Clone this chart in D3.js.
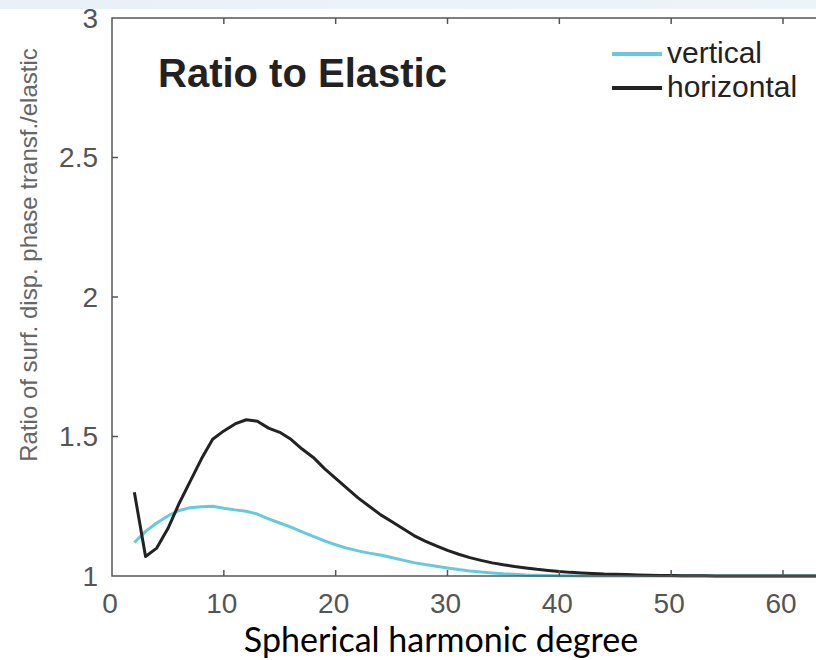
<!DOCTYPE html>
<html>
<head>
<meta charset="utf-8">
<script src="https://cdn.jsdelivr.net/npm/d3@7"></script>
<style>
  html, body { margin: 0; padding: 0; background: #fff; }
  svg { display: block; }
</style>
</head>
<body>
<div id="chart"></div>
<script>
// Spherical harmonic degree (x) and ratio values
const degrees = [2,3,4,5,6,7,8,9,10,11,12,13,14,15,16,17,18,19,20,21,22,23,24,25,26,27,28,29,30,31,32,33,34,35,36,37,38,39,40,41,42,43,44,45,46,47,48,49,50,51,52,53,54,55,56,57,58,59,60,61,62,63];
const horizontal = [1.30,1.07,1.10,1.17,1.26,1.34,1.42,1.49,1.52,1.545,1.56,1.555,1.53,1.515,1.49,1.455,1.425,1.385,1.35,1.315,1.28,1.25,1.22,1.195,1.17,1.145,1.125,1.108,1.092,1.078,1.066,1.056,1.047,1.040,1.034,1.029,1.024,1.020,1.016,1.013,1.011,1.009,1.007,1.006,1.005,1.004,1.003,1.002,1.002,1.001,1.001,1.001,1.0,1.0,1.0,1.0,1.0,1.0,1.0,1.0,1.0,1.0];
const vertical = [1.12,1.16,1.19,1.215,1.235,1.245,1.248,1.25,1.243,1.237,1.232,1.222,1.205,1.19,1.175,1.158,1.142,1.126,1.112,1.100,1.090,1.082,1.075,1.066,1.057,1.048,1.041,1.035,1.029,1.023,1.018,1.014,1.011,1.008,1.006,1.004,1.003,1.002,1.001,1.001,1.0,1.0,1.0,1.0,1.0,1.0,1.0,1.0,1.0,1.0,1.0,1.0,1.0,1.0,1.0,1.0,1.0,1.0,1.0,1.0,1.0,1.0];
const xTicks = [0,10,20,30,40,50,60];
const yTicks = [1,1.5,2,2.5,3];
const seriesNames = ["vertical", "horizontal"];

const width = 816;
const height = 660;
const verticalColor = "#66cadb";
const horizontalColor = "#222";
const axisColor = "#555";

// Plot frame (right edge runs off the picture)
const plotLeft = 112, plotTop = 18, plotBottom = 576;

const x = d3.scaleLinear().domain([0, 60]).range([plotLeft, 783]);
const y = d3.scaleLinear().domain([1, 3]).range([plotBottom, plotTop]);

const svg = d3.select("#chart")
  .append("svg")
  .attr("width", width)
  .attr("height", height)
  .style("font-family", "'Liberation Sans', Arial, Helvetica, sans-serif");

const defs = svg.append("defs");
defs.append("clipPath")
  .attr("id", "plot-clip")
  .append("rect")
  .attr("x", plotLeft)
  .attr("y", plotTop)
  .attr("width", width - plotLeft)
  .attr("height", plotBottom - plotTop + 2);

// Lines
const line = d3.line()
  .x(d => x(d[0]))
  .y(d => y(d[1]));

const plot = svg.append("g").attr("clip-path", "url(#plot-clip)");

plot.append("path")
  .datum(degrees.map((d, i) => [d, vertical[i]]))
  .attr("fill", "none")
  .attr("stroke", verticalColor)
  .attr("stroke-width", 3)
  .attr("stroke-linejoin", "round")
  .attr("d", line);

plot.append("path")
  .datum(degrees.map((d, i) => [d, horizontal[i]]))
  .attr("fill", "none")
  .attr("stroke", horizontalColor)
  .attr("stroke-width", 3)
  .attr("stroke-linejoin", "round")
  .attr("d", line);

// Frame: left, bottom, top
const frame = svg.append("g")
  .attr("stroke", axisColor)
  .attr("stroke-width", 1.5)
  .attr("fill", "none");

frame.append("path")
  .attr("d", `M${width},${plotTop}H${plotLeft}V${plotBottom}H${width}`);

// Inward ticks
const tickLen = 6;
xTicks.filter(d => d > 0).forEach(d => {
  frame.append("line")
    .attr("x1", x(d)).attr("x2", x(d))
    .attr("y1", plotBottom).attr("y2", plotBottom - tickLen);
  frame.append("line")
    .attr("x1", x(d)).attr("x2", x(d))
    .attr("y1", plotTop).attr("y2", plotTop + tickLen);
});
yTicks.filter(d => d > 1 && d < 3).forEach(d => {
  frame.append("line")
    .attr("x1", plotLeft).attr("x2", plotLeft + tickLen)
    .attr("y1", y(d)).attr("y2", y(d));
});

// Tick labels
svg.append("g")
  .selectAll("text")
  .data(xTicks)
  .join("text")
  .attr("x", d => x(d) - 2)
  .attr("y", 613)
  .attr("text-anchor", "middle")
  .attr("font-size", 28)
  .attr("fill", axisColor)
  .text(d => d);

svg.append("g")
  .selectAll("text")
  .data(yTicks)
  .join("text")
  .attr("x", 98)
  .attr("y", d => y(d))
  .attr("dy", "0.35em")
  .attr("text-anchor", "end")
  .attr("font-size", 28)
  .attr("fill", axisColor)
  .text(d => d);

// Axis titles
svg.append("text")
  .attr("transform", "translate(37,255) rotate(-90)")
  .attr("text-anchor", "middle")
  .attr("font-size", 24)
  .attr("fill", "#666")
  .text("Ratio of surf. disp. phase transf./elastic");

svg.append("text")
  .attr("x", 441)
  .attr("y", 652)
  .attr("text-anchor", "middle")
  .attr("font-family", "Lato, 'Open Sans', sans-serif")
  .attr("font-size", 34)
  .attr("fill", "#000")
  .text("Spherical harmonic degree");

// Panel title
svg.append("text")
  .attr("x", 158)
  .attr("y", 87)
  .attr("font-size", 40)
  .attr("font-weight", "bold")
  .attr("fill", "#222")
  .text("Ratio to Elastic");

// Legend
const legendColors = [verticalColor, horizontalColor];
const legend = svg.append("g")
  .selectAll("g")
  .data(seriesNames)
  .join("g")
  .attr("transform", (d, i) => `translate(612,${54 + i * 34})`);

legend.append("line")
  .attr("x1", 0).attr("x2", 50)
  .attr("stroke", (d, i) => legendColors[i])
  .attr("stroke-width", 4);

legend.append("text")
  .attr("x", 55)
  .attr("y", 9)
  .attr("font-size", 30)
  .attr("fill", "#222")
  .text(d => d);

// Slide background band at the very top
const grad = defs.append("linearGradient")
  .attr("id", "band")
  .attr("x1", 0).attr("x2", 1);
grad.append("stop").attr("offset", 0).attr("stop-color", "#e9f0f8");
grad.append("stop").attr("offset", 1).attr("stop-color", "#eef3fa");

svg.append("rect")
  .attr("x", 0).attr("y", 0)
  .attr("width", width).attr("height", 9)
  .attr("fill", "url(#band)");
</script>
</body>
</html>
